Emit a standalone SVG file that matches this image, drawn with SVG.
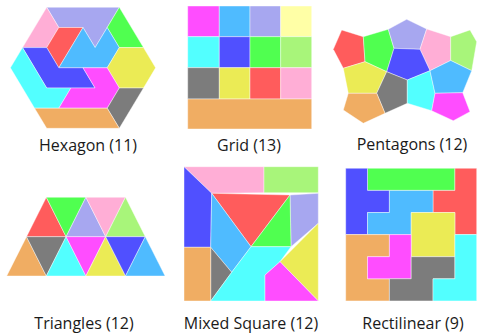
<svg xmlns="http://www.w3.org/2000/svg" width="477" height="335" viewBox="0 0 477 335">
<style>
polygon,rect{stroke:#ffffff;stroke-width:0.6;stroke-opacity:0.7;stroke-linejoin:round}
.mg{fill:#ff4dff}.sk{fill:#4fbbff}.lv{fill:#a7a7f0}.ly{fill:#ffffa6}
.cy{fill:#52ffff}.bl{fill:#5050ff}.gr{fill:#50ff50}.lg{fill:#a8f57a}
.gy{fill:#7c7c7c}.ye{fill:#ebeb55}.rd{fill:#ff5c5c}.pk{fill:#ffaed6}.or{fill:#f0ad63}
text{font-family:"Open Sans","Liberation Sans",sans-serif;font-size:16px;fill:#1a1a1a;text-anchor:middle}
</style>
<rect x="0" y="0" width="477" height="335" fill="#ffffff" style="stroke:none"/>

<g id="hexagon">
<polygon class="lv" points="46.7,7.3 119.3,7.3 107.2,27.5 95.1,47.6 83,27.5 58.8,27.5"/>
<polygon class="pk" points="46.7,7.3 58.8,27.5 46.7,47.6 22.5,47.6"/>
<polygon class="rd" points="58.8,27.5 83,27.5 58.8,67.8 46.7,47.6"/>
<polygon class="gr" points="119.3,7.3 143.5,47.6 119.3,47.6 107.2,27.5"/>
<polygon class="sk" points="83,27.5 95.1,47.6 107.2,27.5 119.3,47.6 107.2,67.8 58.8,67.8"/>
<polygon class="ye" points="119.3,47.6 143.5,47.6 155.6,67.8 143.5,88 119.3,88 107.2,67.8"/>
<polygon class="bl" points="22.5,47.6 46.7,47.6 58.8,67.8 83,67.8 95.1,88 46.7,88"/>
<polygon class="cy" points="22.5,47.6 46.7,88 70.9,88 58.8,108.2 34.6,108.2 10.4,67.8"/>
<polygon class="mg" points="83,67.8 107.2,67.8 119.3,88 107.2,108.2 58.8,108.2 70.9,88 95.1,88"/>
<polygon class="gy" points="119.3,88 143.5,88 119.3,128.3 107.2,108.2"/>
<polygon class="or" points="34.6,108.2 107.2,108.2 119.3,128.3 46.7,128.3"/>
<text x="88" y="151">Hexagon (11)</text>
</g>

<g id="grid">
<rect class="mg" x="187.7" y="6" width="31.6" height="30.7"/>
<rect class="sk" x="219.3" y="6" width="30.7" height="30.7"/>
<rect class="lv" x="250" y="6" width="30.7" height="30.7"/>
<rect class="ly" x="280.7" y="6" width="31" height="30.7"/>
<rect class="cy" x="187.7" y="36.7" width="31.6" height="31"/>
<rect class="bl" x="219.3" y="36.7" width="30.7" height="31"/>
<rect class="gr" x="250" y="36.7" width="30.7" height="31"/>
<rect class="lg" x="280.7" y="36.7" width="31" height="31"/>
<rect class="gy" x="187.7" y="67.7" width="31.6" height="31.3"/>
<rect class="ye" x="219.3" y="67.7" width="30.7" height="31.3"/>
<rect class="rd" x="250" y="67.7" width="30.7" height="31.3"/>
<rect class="pk" x="280.7" y="67.7" width="31" height="31.3"/>
<rect class="or" x="187.7" y="99" width="124" height="30"/>
<text x="249" y="151">Grid (13)</text>
</g>

<g id="pentagons">
<polygon class="rd" points="341.7,30 363.3,36.7 365,61.7 343.3,68.3 333.3,49.3"/>
<polygon class="gr" points="363.3,36.7 388.3,29.3 394,48.3 386.7,71.7 365,61.7"/>
<polygon class="lv" points="388.3,29.3 406.7,19.3 426.7,29 420,49.3 394,48.3"/>
<polygon class="pk" points="426.7,29 450.7,36.7 450.7,60.5 430,70.7 420,49.3"/>
<polygon class="lg" points="450.7,36.7 470,30 476.7,41.7 471.7,70.7 450.7,60.5"/>
<polygon class="bl" points="394,48.3 420,49.3 430,70.7 407.3,80 386.7,71.7"/>
<polygon class="ye" points="343.3,68.3 365,61.7 386.7,71.7 376.7,93.3 348.3,93.3"/>
<polygon class="gy" points="386.7,71.7 407.3,80 407.3,103.3 385,113.3 376.7,93.3"/>
<polygon class="cy" points="407.3,80 430,70.7 435,93.3 431.7,110.7 407.3,103.3"/>
<polygon class="sk" points="430,70.7 450.7,60.5 471.7,70.7 462.7,92.7 435,93.3"/>
<polygon class="mg" points="435,93.3 462.7,92.7 470,111.7 453.3,120.7 431.7,110.7"/>
<polygon class="or" points="348.3,93.3 376.7,93.3 385,113.3 363.3,123.3 343.3,110"/>
<text x="412" y="150">Pentagons (12)</text>
</g>

<g id="triangles">
<polygon class="rd" points="26.5,236.7 46.3,197.3 66.1,236.7"/>
<polygon class="gr" points="46.3,197.3 85.9,197.3 66.1,236.7"/>
<polygon class="lv" points="66.1,236.7 85.9,197.3 105.7,236.7"/>
<polygon class="pk" points="85.9,197.3 125.5,197.3 105.7,236.7"/>
<polygon class="lg" points="105.7,236.7 125.5,197.3 145.3,236.7"/>
<polygon class="or" points="6.7,276 26.5,236.7 46.3,276"/>
<polygon class="gy" points="26.5,236.7 66.1,236.7 46.3,276"/>
<polygon class="cy" points="46.3,276 66.1,236.7 85.9,276"/>
<polygon class="mg" points="66.1,236.7 105.7,236.7 85.9,276"/>
<polygon class="ye" points="85.9,276 105.7,236.7 125.5,276"/>
<polygon class="bl" points="105.7,236.7 145.3,236.7 125.5,276"/>
<polygon class="sk" points="125.5,276 145.3,236.7 165.1,276"/>
<text x="84" y="329">Triangles (12)</text>
</g>

<g id="mixed-square">
<polygon class="pk" points="184,166.7 264,166.7 264,192.7 211.7,193.3"/>
<polygon class="lg" points="264,166.7 318.3,166.7 318.3,192.7 264,192.7"/>
<polygon class="bl" points="184,166.7 211.7,193.3 210.7,247.3 184,247.3"/>
<polygon class="rd" points="211.7,193.3 290,195 251,246.7"/>
<polygon class="lv" points="290,195 318.3,193.3 318.3,223.3 291,246.7"/>
<polygon class="gr" points="290,195 291,246.7 251,246.7"/>
<polygon class="sk" points="211.7,193.3 251,246.7 231.7,272.3 210.7,247.3"/>
<polygon class="gy" points="210.7,247.3 231.7,272.3 210.7,301"/>
<polygon class="or" points="184,247.3 210.7,247.3 210.7,301 184,301"/>
<polygon class="cy" points="251,246.7 291,246.7 280,261.7 265,275 265,301 210.7,301 231.7,272.3"/>
<polygon class="ye" points="318.3,223.3 318.3,301 280,261.7"/>
<polygon class="mg" points="280,261.7 318.3,301 265,301 265,275"/>
<text x="251" y="329">Mixed Square (12)</text>
</g>

<g id="rectilinear">
<polygon class="gr" points="367.5,168.3 454.9,168.3 454.9,190.4 367.5,190.4"/>
<polygon class="bl" points="345.7,168.3 367.5,168.3 367.5,190.4 389.4,190.4 389.4,212.5 367.5,212.5 367.5,234.6 345.7,234.6"/>
<polygon class="rd" points="454.9,168.3 476.7,168.3 476.7,234.6 454.9,234.6 454.9,212.5 433,212.5 433,190.4 454.9,190.4"/>
<polygon class="sk" points="389.4,190.4 433,190.4 433,212.5 411.2,212.5 411.2,234.6 367.5,234.6 367.5,212.5 389.4,212.5"/>
<polygon class="ye" points="411.2,212.5 454.9,212.5 454.9,256.7 411.2,256.7"/>
<polygon class="or" points="345.7,234.6 389.4,234.6 389.4,256.7 367.5,256.7 367.5,278.8 389.4,278.8 389.4,300.9 345.7,300.9"/>
<polygon class="mg" points="389.4,234.6 411.2,234.6 411.2,278.8 367.5,278.8 367.5,256.7 389.4,256.7"/>
<polygon class="gy" points="411.2,256.7 454.9,256.7 454.9,278.8 433,278.8 433,300.9 389.4,300.9 389.4,278.8 411.2,278.8"/>
<polygon class="cy" points="454.9,234.6 476.7,234.6 476.7,300.9 433,300.9 433,278.8 454.9,278.8"/>
<text x="413" y="329">Rectilinear (9)</text>
</g>
</svg>
